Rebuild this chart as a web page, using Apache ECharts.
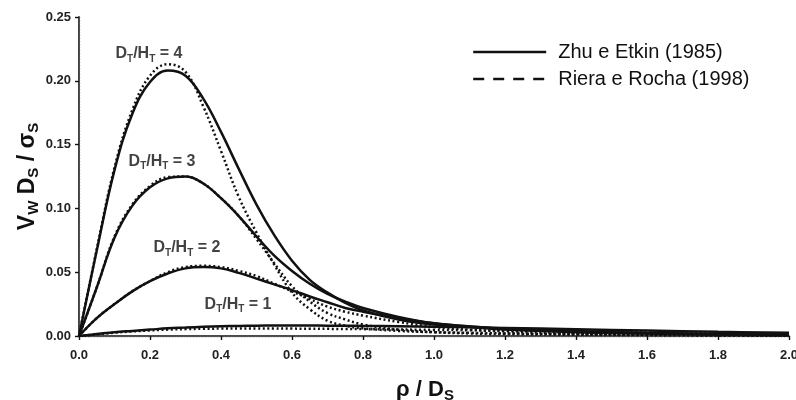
<!DOCTYPE html>
<html>
<head>
<meta charset="utf-8">
<script src="https://cdn.jsdelivr.net/npm/echarts@6/dist/echarts.min.js"></script>
<style>
  html, body { margin: 0; padding: 0; background: #fff; }
  #chart { width: 796px; height: 400px; }
</style>
</head>
<body>
<div id="chart"></div>
<script>
// Dimensionless distance from the stagnation point, rho / D_S
const rho = [0, 0.05, 0.1, 0.15, 0.2, 0.25, 0.3, 0.35, 0.4, 0.45, 0.5, 0.55, 0.6, 0.65, 0.7, 0.75, 0.8, 0.9, 1.0, 1.1, 1.2, 1.4, 1.6, 1.8, 2.0];

// Zhu e Etkin (1985), one curve per D_T/H_T ratio
const zhu4 = [0, 0.067, 0.130, 0.174, 0.199, 0.208, 0.204, 0.186, 0.160, 0.131, 0.103, 0.079, 0.059, 0.044, 0.034, 0.026, 0.020, 0.013, 0.009, 0.007, 0.005, 0.003, 0.002, 0.0012, 0.0006];
const zhu3 = [0, 0.038, 0.077, 0.102, 0.1165, 0.1235, 0.125, 0.1195, 0.108, 0.094, 0.078, 0.063, 0.051, 0.041, 0.033, 0.027, 0.022, 0.015, 0.010, 0.0075, 0.0055, 0.0035, 0.0022, 0.0014, 0.0008];
const zhu2 = [0, 0.014, 0.025, 0.035, 0.043, 0.049, 0.053, 0.054, 0.053, 0.0495, 0.045, 0.0405, 0.036, 0.031, 0.0265, 0.022, 0.019, 0.014, 0.010, 0.0075, 0.0058, 0.0037, 0.0025, 0.0016, 0.001];
const zhu1 = [0, 0.0015, 0.003, 0.004, 0.005, 0.006, 0.0066, 0.0072, 0.0076, 0.0079, 0.0081, 0.0082, 0.0082, 0.0082, 0.0081, 0.0080, 0.0079, 0.0076, 0.0072, 0.0068, 0.0063, 0.0053, 0.0043, 0.0033, 0.0025];

// Riera e Rocha (1998), same ratios
const riera4 = [0, 0.068, 0.132, 0.177, 0.204, 0.213, 0.207, 0.180, 0.145, 0.109, 0.081, 0.056, 0.034, 0.021, 0.012, 0.008, 0.006, 0.004, 0.003, 0.0025, 0.002, 0.0015, 0.001, 0.0006, 0.0003];
const riera3 = [0, 0.038, 0.078, 0.103, 0.1175, 0.1245, 0.125, 0.1195, 0.108, 0.094, 0.076, 0.057, 0.039, 0.027, 0.018, 0.013, 0.009, 0.005, 0.003, 0.002, 0.0015, 0.001, 0.0007, 0.0004, 0.0002];
const riera2 = [0, 0.014, 0.025, 0.035, 0.043, 0.050, 0.054, 0.055, 0.054, 0.051, 0.047, 0.041, 0.035, 0.029, 0.023, 0.019, 0.016, 0.011, 0.007, 0.005, 0.0035, 0.002, 0.0012, 0.0007, 0.0004];
const riera1 = [0, 0.0013, 0.0026, 0.0036, 0.0044, 0.0050, 0.0054, 0.0057, 0.0058, 0.0059, 0.0059, 0.0059, 0.0058, 0.0057, 0.0056, 0.0055, 0.0054, 0.0051, 0.0048, 0.0045, 0.0042, 0.0035, 0.0028, 0.0021, 0.0015];

// Curve annotations: ratio value and the (rho, value) point each label is centred on
const ratioLabels = ['4', '3', '2', '1'];
const labelRho = [0.197, 0.234, 0.304, 0.448];
const labelVal = [0.221, 0.137, 0.069, 0.0245];

const FONT = '"Liberation Sans", Arial, Helvetica, sans-serif';
const INK = '#111';
const ZHU = 'Zhu e Etkin (1985)';
const RIERA = 'Riera e Rocha (1998)';

const pairs = ys => rho.map((x, i) => [x, ys[i]]);

function curve(name, ys, dotted) {
  return {
    name: name,
    type: 'line',
    data: pairs(ys),
    smooth: 0.4,
    symbol: 'none',
    silent: true,
    z: dotted ? 3 : 2,
    itemStyle: { color: INK },
    lineStyle: {
      color: INK,
      width: 2.5,
      type: dotted ? [2, 2.6] : 'solid'
    }
  };
}

const series = [
  curve(ZHU, zhu4, false), curve(ZHU, zhu3, false), curve(ZHU, zhu2, false), curve(ZHU, zhu1, false),
  curve(RIERA, riera4, true), curve(RIERA, riera3, true), curve(RIERA, riera2, true), curve(RIERA, riera1, true),
  {
    type: 'scatter',
    silent: true,
    symbolSize: 0,
    data: ratioLabels.map((r, i) => ({ value: [labelRho[i], labelVal[i]], ratio: r })),
    label: {
      show: true,
      position: 'inside',
      color: INK,
      formatter: p => '{b|D}{s|T}{b|/H}{s|T}{b| = ' + p.data.ratio + '}',
      rich: {
        b: { fontFamily: FONT, fontWeight: 'bold', fontSize: 16, color: INK, lineHeight: 20 },
        s: { fontFamily: FONT, fontWeight: 'bold', fontSize: 10, color: INK, verticalAlign: 'bottom', lineHeight: 6 }
      }
    }
  }
];

const chart = echarts.init(document.getElementById('chart'), null, { renderer: 'canvas' });
chart.setOption({
  backgroundColor: '#fff',
  animation: false,
  grid: { left: 79, right: 7, top: 17, bottom: 64, containLabel: false, outerBoundsMode: 'none' },
  legend: {
    orient: 'vertical',
    left: 472,
    top: 42,
    padding: 0,
    itemWidth: 73,
    itemHeight: 14,
    itemGap: 7,
    selectedMode: false,
    itemStyle: { opacity: 0 },
    textStyle: { fontFamily: FONT, fontSize: 20, color: INK, lineHeight: 20, padding: [0, 0, 0, 7] },
    data: [
      { name: ZHU, itemStyle: { opacity: 0 }, lineStyle: { type: 'solid', width: 2.4, color: INK } },
      { name: RIERA, itemStyle: { opacity: 0 }, lineStyle: { type: [11, 9], width: 2.4, color: INK } }
    ]
  },
  xAxis: [{
    type: 'value',
    min: 0, max: 2, interval: 0.2,
    splitLine: { show: false },
    axisLine: { lineStyle: { color: INK, width: 1.6 } },
    axisTick: { length: 4, lineStyle: { color: INK, width: 1.4 } },
    axisLabel: { margin: 13, fontFamily: FONT, fontWeight: 'bold', fontSize: 13, color: '#222', formatter: v => v.toFixed(1) },
    name: '{b|ρ / D}{s|S}',
    nameLocation: 'middle',
    nameMoveOverlap: false,
    nameGap: 41,
    nameTextStyle: {
      padding: [0, 18, 0, 0],
      rich: {
        b: { fontFamily: FONT, fontWeight: 'bold', fontSize: 22, color: INK, lineHeight: 26 },
        s: { fontFamily: FONT, fontWeight: 'bold', fontSize: 15, color: INK, verticalAlign: 'bottom', lineHeight: 8 }
      }
    }
  }, {
    type: 'value', position: 'top',
    min: 0, max: 2, interval: 0.2,
    splitLine: { show: false }, axisTick: { show: false }, axisLabel: { show: false },
    axisLine: { show: true, lineStyle: { color: '#555', width: 1.3, type: [1, 2] } }
  }],
  yAxis: [{
    type: 'value',
    min: 0, max: 0.25, interval: 0.05,
    splitLine: { show: false },
    axisLine: { show: true, lineStyle: { color: INK, width: 1.6 } },
    axisTick: { show: true, length: 4, lineStyle: { color: INK, width: 1.4 } },
    axisLabel: { margin: 8, fontFamily: FONT, fontWeight: 'bold', fontSize: 13, color: '#222', formatter: v => v.toFixed(2) },
    name: '{b|V}{s|W}{b| D}{s|S}{b| / σ}{s|S}',
    nameLocation: 'middle',
    nameMoveOverlap: false,
    nameRotate: 90,
    nameGap: 38,
    nameTextStyle: {
      rich: {
        b: { fontFamily: FONT, fontWeight: 'bold', fontSize: 23, color: INK, lineHeight: 27 },
        s: { fontFamily: FONT, fontWeight: 'bold', fontSize: 15, color: INK, verticalAlign: 'bottom', lineHeight: 8 }
      }
    }
  }, {
    type: 'value', position: 'right',
    min: 0, max: 0.25, interval: 0.05,
    splitLine: { show: false }, axisTick: { show: false }, axisLabel: { show: false },
    axisLine: { show: true, lineStyle: { color: '#555', width: 1.3, type: [1, 2] } }
  }],
  series: series
});
</script>
</body>
</html>
